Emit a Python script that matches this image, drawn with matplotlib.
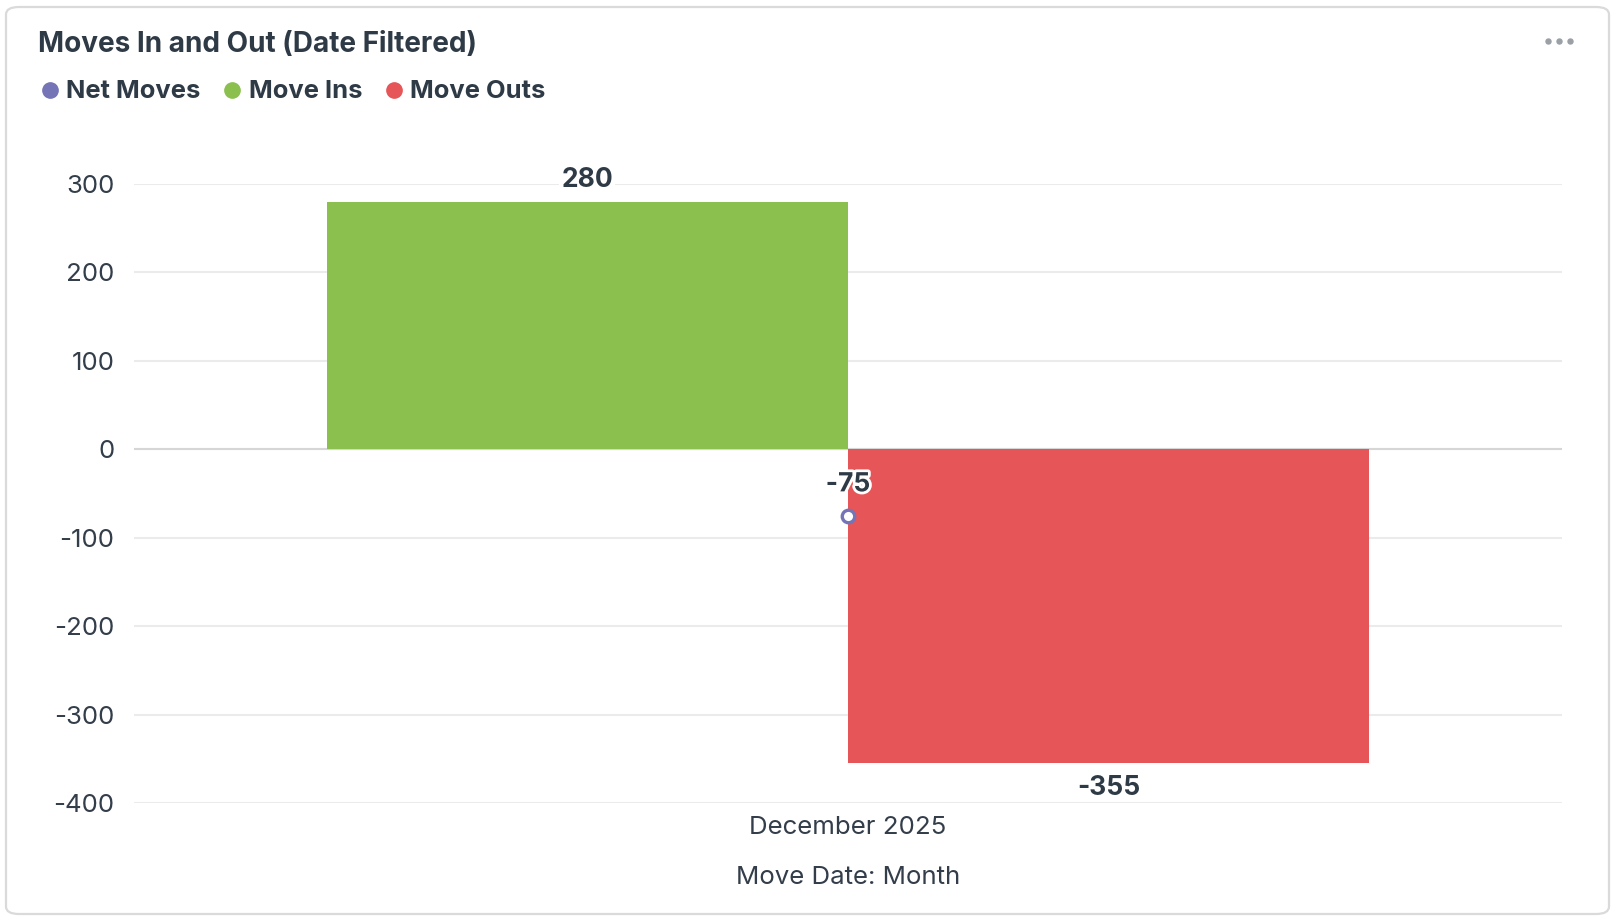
import matplotlib
matplotlib.use("Agg")
import matplotlib.pyplot as plt
from matplotlib.patches import FancyBboxPatch
from matplotlib.lines import Line2D
import matplotlib.patheffects as pe

# ---- data ----
categories = ["December 2025"]
move_ins = [280]
move_outs = [-355]
net_moves = [-75]
series_names = ["Net Moves", "Move Ins", "Move Outs"]
y_ticks = [300, 200, 100, 0, -100, -200, -300, -400]
title = "Moves In and Out (Date Filtered)"
x_label = "Move Date: Month"

# ---- style ----
C_NET = "#7474B6"
C_IN = "#8BC04F"
C_OUT = "#E65557"
TXT = "#2E3A46"
TICK = "#333E4A"
FONT = "Inter"
FS_TICK = 18.6
FS_LAB = 19

W, H = 1620, 924
fig = plt.figure(figsize=(W / 100, H / 100), dpi=100)
fig.patch.set_facecolor("white")

def fx(px):
    return px / W

def fy(py):
    return 1 - py / H

# card border
card = FancyBboxPatch((fx(6), fy(914)), fx(1609) - fx(6), fy(7) - fy(914),
                      boxstyle="round,pad=0,rounding_size=0.008",
                      transform=fig.transFigure, facecolor="white",
                      edgecolor="#DADADA", linewidth=1.6, zorder=-5)
fig.patches.append(card)

# title
fig.text(fx(38), fy(44), title, fontsize=20.1, fontweight="bold", color=TXT,
         family=FONT, ha="left", va="center")

# ellipsis
for dx in (1548, 1559, 1570):
    fig.add_artist(Line2D([fx(dx)], [fy(41)], marker="o", markersize=3.6,
                          color="#9AA0A6", transform=fig.transFigure))

# legend (manual)
leg_colors = [C_NET, C_IN, C_OUT]
leg_marker_x = [49.5, 232, 393.5]
leg_text_x = [66, 249, 410]
for name, col, mx, tx in zip(series_names, leg_colors, leg_marker_x, leg_text_x):
    fig.add_artist(Line2D([fx(mx)], [fy(90)], marker="o", markersize=11,
                          color=col, transform=fig.transFigure))
    fig.text(fx(tx), fy(92), name, fontsize=18.4, fontweight="bold",
             color=TXT, family=FONT, ha="left", va="center")

# axes
ax = fig.add_axes([fx(134), fy(803), fx(1562) - fx(134), fy(184) - fy(803)])
ax.patch.set_alpha(0)
ax.set_zorder(2)
ax.set_ylim(-400, 300)
ax.set_xlim(-0.5, 0.5)
for s in ax.spines.values():
    s.set_visible(False)
ax.set_yticks(y_ticks)
ax.set_yticklabels([str(v) for v in y_ticks])
ax.grid(axis="y", color="#EBEBEB", linewidth=1.5, zorder=0)
ax.set_axisbelow(True)
ax.axhline(0, color="#D6D6D6", linewidth=1.5, zorder=1)
ax.tick_params(axis="y", length=0, pad=14, labelsize=FS_TICK, labelcolor=TICK)
ax.tick_params(axis="x", length=0, pad=9.5, labelsize=FS_TICK, labelcolor=TICK)

x = list(range(len(categories)))
bw = 0.365
bars_in = ax.bar([xi - bw / 2 for xi in x], move_ins, width=bw, color=C_IN, zorder=2)
bars_out = ax.bar([xi + bw / 2 for xi in x], move_outs, width=bw, color=C_OUT, zorder=2)
ax.set_xticks(x)
ax.set_xticklabels(categories)
for lab in ax.get_yticklabels() + ax.get_xticklabels():
    lab.set_family(FONT)
ax.set_xlabel(x_label, fontsize=FS_TICK, color=TICK, family=FONT, labelpad=19.5)

# bar labels
for b, v in zip(bars_in, move_ins):
    ax.annotate(str(v), (b.get_x() + b.get_width() / 2, v), xytext=(0, 15.5),
                textcoords="offset points", ha="center", va="center",
                fontsize=FS_LAB, fontweight="bold", color=TXT, family=FONT,
                bbox=dict(facecolor="white", edgecolor="none", pad=1.5), zorder=5)
for b, v in zip(bars_out, move_outs):
    ax.annotate(str(v), (b.get_x() + b.get_width() / 2, v), xytext=(0, -18),
                textcoords="offset points", ha="center", va="center",
                fontsize=FS_LAB, fontweight="bold", color=TXT, family=FONT, zorder=5)

# net moves points
ax.plot(x, net_moves, linestyle="none", marker="o", markersize=9,
        markerfacecolor="white", markeredgecolor=C_NET, markeredgewidth=2.4,
        zorder=6, clip_on=False)
for xi, v in zip(x, net_moves):
    t = ax.annotate(str(v), (xi, v), xytext=(0, 22.5), textcoords="offset points",
                    ha="center", va="center", fontsize=FS_LAB, fontweight="bold",
                    color=TXT, family=FONT, zorder=7)
    t.set_path_effects([pe.withStroke(linewidth=4, foreground="white")])

fig.savefig("out.png", dpi=100, facecolor="white")
